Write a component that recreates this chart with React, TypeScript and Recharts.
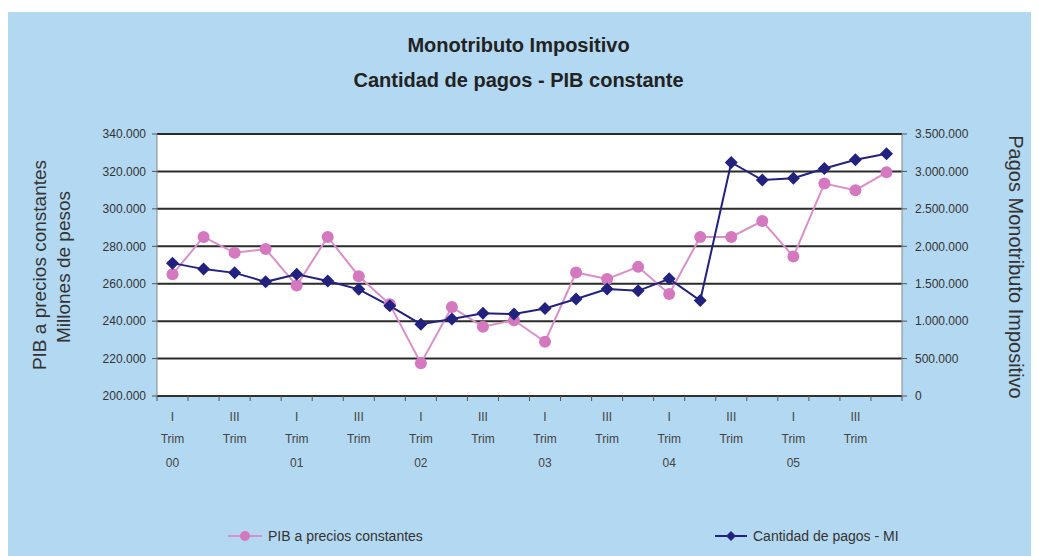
import { LineChart, Line, XAxis, YAxis, CartesianGrid } from 'recharts';

const trimestres = [
  'I', 'II', 'III', 'IV', 'I', 'II', 'III', 'IV', 'I', 'II', 'III', 'IV',
  'I', 'II', 'III', 'IV', 'I', 'II', 'III', 'IV', 'I', 'II', 'III', 'IV',
];
const anios = [
  '00', '00', '00', '00', '01', '01', '01', '01', '02', '02', '02', '02',
  '03', '03', '03', '03', '04', '04', '04', '04', '05', '05', '05', '05',
];
// PIB a precios constantes (millones de pesos)
const pib = [
  265000, 285000, 276500, 278500, 259000, 285000, 264000, 249000, 217500, 247500, 237000, 240500,
  229000, 266000, 262500, 269000, 254500, 285000, 285000, 293500, 274500, 313500, 310000, 319500,
];
// Cantidad de pagos - Monotributo Impositivo
const pagos = [
  1775000, 1695000, 1645000, 1525000, 1625000, 1535000, 1425000, 1205000, 960000, 1030000, 1105000, 1095000,
  1170000, 1295000, 1430000, 1405000, 1565000, 1275000, 3120000, 2885000, 2910000, 3040000, 3155000, 3235000,
];
const pibTicks = [200000, 220000, 240000, 260000, 280000, 300000, 320000, 340000];
const pagosTicks = [0, 500000, 1000000, 1500000, 2000000, 2500000, 3000000, 3500000];

const data = trimestres.map((t, i) => ({
  cat: `${t} Trim ${anios[i]}`,
  trim: t,
  anio: anios[i],
  pib: pib[i],
  pagos: pagos[i],
}));

const W = 1039;
const H = 556;
const LEFT_W = 157;
const RIGHT_W = 137;
const TOP = 134;
const X_H = 60;
const BOTTOM = 100;
const PINK = '#D478C0';
const PINK_LINE = '#D890C8';
const NAVY = '#22227E';
const FONT = '"Liberation Sans", Arial, sans-serif';

const fmt = (v: number) => String(v).replace(/\B(?=(\d{3})+(?!\d))/g, '.');

const bandHalf = (W - LEFT_W - RIGHT_W) / trimestres.length / 2;

function XTick(props: any) {
  const { x, y, payload, index } = props;
  const d = data[index] ?? data.find((r) => r.cat === payload.value);
  const axisY = y - 4;
  const show = d && (d.trim === 'I' || d.trim === 'III');
  return (
    <g>
      <line x1={x - bandHalf} x2={x - bandHalf} y1={axisY} y2={axisY + 5} stroke="#555" />
      {index === trimestres.length - 1 && (
        <line x1={x + bandHalf} x2={x + bandHalf} y1={axisY} y2={axisY + 5} stroke="#555" />
      )}
      {show && (
        <text x={x} textAnchor="middle" fill="#444" fontSize={12} fontFamily={FONT}>
          <tspan x={x} y={axisY + 25}>{d.trim}</tspan>
          <tspan x={x} y={axisY + 47}>Trim</tspan>
          {d.trim === 'I' && <tspan x={x} y={axisY + 71}>{d.anio}</tspan>}
        </text>
      )}
    </g>
  );
}

function PinkDot(props: any) {
  const { cx, cy } = props;
  if (cx == null || cy == null) return null;
  return <circle cx={cx} cy={cy} r={6} fill={PINK} />;
}

function Diamond(props: any) {
  const { cx, cy } = props;
  if (cx == null || cy == null) return null;
  const s = 6.5;
  return <polygon points={`${cx},${cy - s} ${cx + s},${cy} ${cx},${cy + s} ${cx - s},${cy}`} fill={NAVY} />;
}

export default function App() {
  return (
    <div style={{ position: 'relative', marginLeft: -8, marginTop: -8, width: W, height: H, background: '#fff', overflow: 'hidden', fontFamily: FONT }}>
      <div style={{ position: 'absolute', left: 6, top: 12, right: 0, bottom: 0, background: '#B3D8F1' }} />

      <div style={{ position: 'absolute', left: 0, width: W - 2, top: 33, textAlign: 'center', fontWeight: 'bold', fontSize: 20, color: '#222', lineHeight: '24px' }}>
        Monotributo Impositivo
      </div>
      <div style={{ position: 'absolute', left: 0, width: W - 2, top: 68, textAlign: 'center', fontWeight: 'bold', fontSize: 20, color: '#222', lineHeight: '24px' }}>
        Cantidad de pagos - PIB constante
      </div>

      <div style={{ position: 'absolute', left: 0, top: 0 }}>
        <LineChart width={W} height={H} data={data} margin={{ top: TOP, right: 0, bottom: BOTTOM, left: 0 }}>
          <CartesianGrid yAxisId="left" vertical={false} horizontal fill="#fff" stroke="#2a2a2a" strokeWidth={2} />
          <XAxis
            dataKey="cat"
            height={X_H}
            interval={0}
            padding={{ left: bandHalf, right: bandHalf }}
            tickLine={false}
            tick={<XTick />}
            axisLine={{ stroke: '#333', strokeWidth: 1.5 }}
            tickMargin={0}
            tickSize={4}
          />
          <YAxis
            yAxisId="left"
            width={LEFT_W}
            domain={[200000, 340000]}
            ticks={pibTicks}
            tickFormatter={fmt}
            tick={{ fill: '#333', fontSize: 12, fontFamily: FONT }}
            tickSize={5}
            tickMargin={6}
            axisLine={{ stroke: '#888' }}
            tickLine={{ stroke: '#555' }}
          />
          <YAxis
            yAxisId="right"
            orientation="right"
            width={RIGHT_W}
            domain={[0, 3500000]}
            ticks={pagosTicks}
            tickFormatter={fmt}
            tick={{ fill: '#333', fontSize: 12, fontFamily: FONT, textAnchor: 'start' }}
            tickSize={5}
            tickMargin={8}
            axisLine={{ stroke: '#888' }}
            tickLine={{ stroke: '#555' }}
          />
          <Line
            yAxisId="left"
            dataKey="pib"
            stroke={PINK_LINE}
            strokeWidth={2}
            dot={<PinkDot />}
            isAnimationActive={false}
          />
          <Line
            yAxisId="right"
            dataKey="pagos"
            stroke={NAVY}
            strokeWidth={2}
            dot={<Diamond />}
            isAnimationActive={false}
          />
        </LineChart>
      </div>

      {/* axis titles */}
      <div style={{ position: 'absolute', left: 40, top: 265, transform: 'translate(-50%, -50%) rotate(-90deg)', whiteSpace: 'nowrap', fontSize: 19, color: '#333', lineHeight: '22px' }}>
        PIB a precios constantes
      </div>
      <div style={{ position: 'absolute', left: 64, top: 267, transform: 'translate(-50%, -50%) rotate(-90deg)', whiteSpace: 'nowrap', fontSize: 19, color: '#333', lineHeight: '22px' }}>
        Millones de pesos
      </div>
      <div style={{ position: 'absolute', left: 1016, top: 267, transform: 'translate(-50%, -50%) rotate(90deg)', whiteSpace: 'nowrap', fontSize: 20, color: '#333', lineHeight: '22px' }}>
        Pagos Monotributo Impositivo
      </div>

      {/* legend */}
      <div style={{ position: 'absolute', left: 226, top: 528, display: 'flex', alignItems: 'center', fontSize: 14, color: '#333' }}>
        <svg width={38} height={16}>
          <line x1={2} x2={36} y1={8} y2={8} stroke={PINK_LINE} strokeWidth={2} />
          <circle cx={19} cy={8} r={5} fill={PINK} />
        </svg>
        <span style={{ marginLeft: 4 }}>PIB a precios constantes</span>
      </div>
      <div style={{ position: 'absolute', left: 713, top: 528, display: 'flex', alignItems: 'center', fontSize: 14, color: '#333' }}>
        <svg width={36} height={16}>
          <line x1={2} x2={34} y1={8} y2={8} stroke={NAVY} strokeWidth={2} />
          <polygon points="18,3 23,8 18,13 13,8" fill={NAVY} />
        </svg>
        <span style={{ marginLeft: 4 }}>Cantidad de pagos - MI</span>
      </div>
    </div>
  );
}
